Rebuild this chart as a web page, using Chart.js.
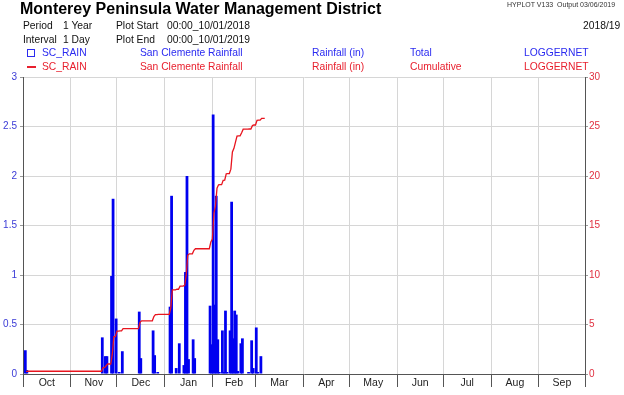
<!DOCTYPE html>
<html><head><meta charset="utf-8">
<script src="https://cdn.jsdelivr.net/npm/chart.js@4/dist/chart.umd.min.js"></script>
<style>
html,body{margin:0;padding:0;background:#fff;}
#wrap{position:relative;width:624px;height:395px;overflow:hidden;font-family:"Liberation Sans",Arial,sans-serif;}
canvas{position:absolute;left:0;top:0;}
.t{position:absolute;white-space:nowrap;line-height:1;font-size:10.3px;color:#111;}
.b{color:#2b2bf0;}
.r{color:#e8202e;}
</style></head><body>
<div id="wrap">
<canvas id="c" width="624" height="395"></canvas>
<div class="t" style="left:20px;top:1px;font-size:16px;font-weight:bold;color:#000;">Monterey Peninsula Water Management District</div>
<div class="t" style="left:507px;top:1px;font-size:7px;color:#333;">HYPLOT V133&nbsp; Output 03/06/2019</div>
<div class="t" style="left:23px;top:21px;">Period</div>
<div class="t" style="left:63px;top:21px;">1 Year</div>
<div class="t" style="left:116px;top:21px;">Plot Start</div>
<div class="t" style="left:167px;top:21px;">00:00_10/01/2018</div>
<div class="t" style="left:583px;top:21px;">2018/19</div>
<div class="t" style="left:23px;top:35px;">Interval</div>
<div class="t" style="left:63px;top:35px;">1 Day</div>
<div class="t" style="left:116px;top:35px;">Plot End</div>
<div class="t" style="left:167px;top:35px;">00:00_10/01/2019</div>
<div style="position:absolute;left:27px;top:49px;width:6px;height:6px;border:1.5px solid #2b2bf0;"></div>
<div class="t b" style="left:42px;top:48px;">SC_RAIN</div>
<div class="t b" style="left:140px;top:48px;">San Clemente Rainfall</div>
<div class="t b" style="left:312px;top:48px;">Rainfall (in)</div>
<div class="t b" style="left:410px;top:48px;">Total</div>
<div class="t b" style="left:524px;top:48px;">LOGGERNET</div>
<div style="position:absolute;left:27px;top:66px;width:9px;height:2px;background:#e8202e;"></div>
<div class="t r" style="left:42px;top:62px;">SC_RAIN</div>
<div class="t r" style="left:140px;top:62px;">San Clemente Rainfall</div>
<div class="t r" style="left:312px;top:62px;">Rainfall (in)</div>
<div class="t r" style="left:410px;top:62px;">Cumulative</div>
<div class="t r" style="left:524px;top:62px;">LOGGERNET</div>
</div>
<script>
// Water-year day index: 0 = Oct 1 2018
const monthLabels = ["Oct","Nov","Dec","Jan","Feb","Mar","Apr","May","Jun","Jul","Aug","Sep"];
const monthStart = [0,31,61,92,123,151,182,212,243,273,304,335,365];

// Daily rainfall (in), SC_RAIN Total
const rainDay = [1,2,51,53,54,57,58,60,62,64,75,76,84,85,87,95,96,99,101,104,105,106,107,110,111,
                 121,122,123,124,125,126,127,129,130,131,132,134,135,136,137,138,139,141,142,146,148,149,151,152,154];
const rainIn  = [0.24,0.04,0.37,0.18,0.18,0.99,1.77,0.56,0.02,0.23,0.63,0.16,0.44,0.19,0.02,0.68,1.80,0.06,0.31,0.09,1.03,2.00,0.15,0.35,0.16,
                 0.69,0.30,2.62,0.70,1.80,0.35,0.02,0.44,0.02,0.64,0.02,0.44,1.74,0.36,0.64,0.60,0.03,0.31,0.36,0.02,0.34,0.06,0.47,0.02,0.18];

// Cumulative rainfall (in), SC_RAIN Cumulative (read at breakpoints)
const cumDay = [1,2,50,51,52,53,54,56,57,58,59,60,61,62,63,64,74,75,76,83,84,85,86,87,94,95,96,98,99,100,101,103,104,105,106,107,109,110,111,
                120,121,122,123,124,125,126,127,128,129,130,131,132,133,134,135,136,137,138,139,140,141,142,145,146,147,148,149,150,151,152,153,154,156];
const cumIn  = [0.24,0.28,0.28,0.65,0.65,0.83,1.01,1.01,2.00,3.77,3.77,4.33,4.33,4.35,4.35,4.58,4.58,5.21,5.37,5.37,5.81,6.00,6.00,6.02,6.02,6.70,8.50,8.50,8.56,8.56,8.87,8.87,8.96,9.99,11.99,12.14,12.14,12.49,12.65,
                12.65,13.34,13.64,16.26,16.96,18.76,19.11,19.13,19.13,19.57,19.59,20.23,20.25,20.25,20.69,22.43,22.79,23.43,24.03,24.06,24.06,24.37,24.73,24.73,24.75,24.75,25.09,25.15,25.15,25.62,25.64,25.64,25.82,25.82];

const leftTicksMax = 3, leftStep = 0.5, rightMax = 30, rightStep = 5;

const barData = rainDay.map((d,i)=>({x:d+0.5, y:rainIn[i]}));
const cumData = cumDay.map((d,i)=>({x:d+1, y:cumIn[i]}));

new Chart(document.getElementById('c'), {
  type: 'bar',
  data: {
    datasets: [
      {type:'line', data: cumData, yAxisID:'y2', borderColor:'#e8141e', borderWidth:1.3, pointRadius:0, tension:0, order:0},
      {type:'bar', data: barData, yAxisID:'y', backgroundColor:'#0000f0', borderWidth:0, barPercentage:1.8, categoryPercentage:1, order:1}
    ]
  },
  options: {
    responsive:false, animation:false, devicePixelRatio:1,
    layout:{padding:{top:77,left:0,right:0,bottom:0}},
    plugins:{legend:{display:false}, tooltip:{enabled:false}},
    scales:{
      x:{
        type:'linear', min:0, max:365, offset:false, position:'bottom',
        afterBuildTicks: s => {
          const t = [];
          monthStart.forEach((d,i)=>{
            t.push({value:d});
            if (i < monthLabels.length) t.push({value:(d+monthStart[i+1])/2, mid:true, label:monthLabels[i]});
          });
          s.ticks = t;
        },
        afterFit: s => { s.height = 21; },
        ticks:{autoSkip:false, maxRotation:0, padding:-10, color:'#222', font:{family:'"Liberation Sans", Arial', size:10.5},
               callback:(v,i,ticks)=> ticks[i].label || ''},
        grid:{offset:false, tickLength:13,
              color: c => (c.tick && c.tick.mid) ? 'rgba(0,0,0,0)' : '#d6d6d6',
              tickColor: c => (c.tick && c.tick.mid) ? 'rgba(0,0,0,0)' : '#555'},
        border:{color:'#555'}
      },
      y:{
        position:'left', min:0, max:leftTicksMax,
        afterFit: s => { s.width = 23; },
        ticks:{stepSize:leftStep, padding:3, color:'#3a3ad6', font:{family:'"Liberation Sans", Arial', size:10},
               callback: v => String(v)},
        grid:{color:'#d6d6d6', tickLength:3, tickColor:'#999'},
        border:{color:'#555'}
      },
      y2:{
        position:'right', min:0, max:rightMax,
        afterFit: s => { s.width = 39; },
        ticks:{stepSize:rightStep, padding:1, color:'#e03040', font:{family:'"Liberation Sans", Arial', size:10}},
        grid:{drawOnChartArea:false, tickLength:3, tickColor:'#999'},
        border:{color:'#555'}
      }
    }
  }
});
</script>
</body></html>
